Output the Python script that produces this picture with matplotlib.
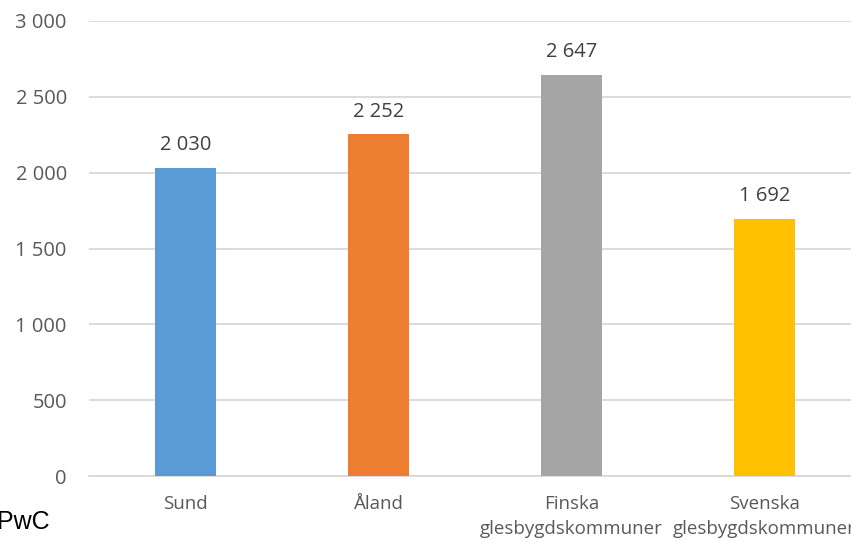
import matplotlib
matplotlib.use("Agg")
import matplotlib.pyplot as plt
from matplotlib.ticker import FuncFormatter

categories = ["Sund", "Åland", "Finska\nglesbygdskommuner", "Svenska\nglesbygdskommuner"]
values = [2030, 2252, 2647, 1692]
colors = ["#5B9BD5", "#ED7D31", "#A5A5A5", "#FFC000"]
yticks = [0, 500, 1000, 1500, 2000, 2500, 3000]

plt.rcParams["font.family"] = ["Open Sans", "DejaVu Sans"]


def thousands(v, pos=None):
    return f"{int(v):,}".replace(",", " ")


fig = plt.figure(figsize=(8.51, 5.41), dpi=100)
ax = fig.add_axes([89 / 851, 1 - 476 / 541, 772 / 851, 455 / 541])

x = range(len(categories))
bars = ax.bar(x, values, width=0.316, color=colors, zorder=3)
for b, v in zip(bars, values):
    ax.text(b.get_x() + b.get_width() / 2, v + 85, thousands(v),
            ha="center", va="bottom", fontsize=14.5, color="#404040")

ax.set_xlim(-0.5, len(categories) - 0.5)
ax.set_ylim(0, 3000)
ax.set_yticks(yticks)
ax.yaxis.set_major_formatter(FuncFormatter(thousands))
ax.set_xticks(list(x))
ax.set_xticklabels(categories, fontsize=13.5, color="#595959", linespacing=1.45)
ax.tick_params(axis="y", labelsize=14.5, labelcolor="#595959", length=0, pad=16)
ax.tick_params(axis="x", length=0, pad=14)
ax.grid(axis="y", color="#D9D9D9", linewidth=1.3, zorder=0)
for s in ["top", "right", "left"]:
    ax.spines[s].set_visible(False)
ax.spines["bottom"].set_color("#D9D9D9")
ax.spines["bottom"].set_linewidth(1.3)

fig.text(-0.004, 1 - 522 / 541, "PwC", fontsize=18, family="Liberation Sans",
         color="black", ha="left", va="center")

fig.savefig("out.png", dpi=100)
